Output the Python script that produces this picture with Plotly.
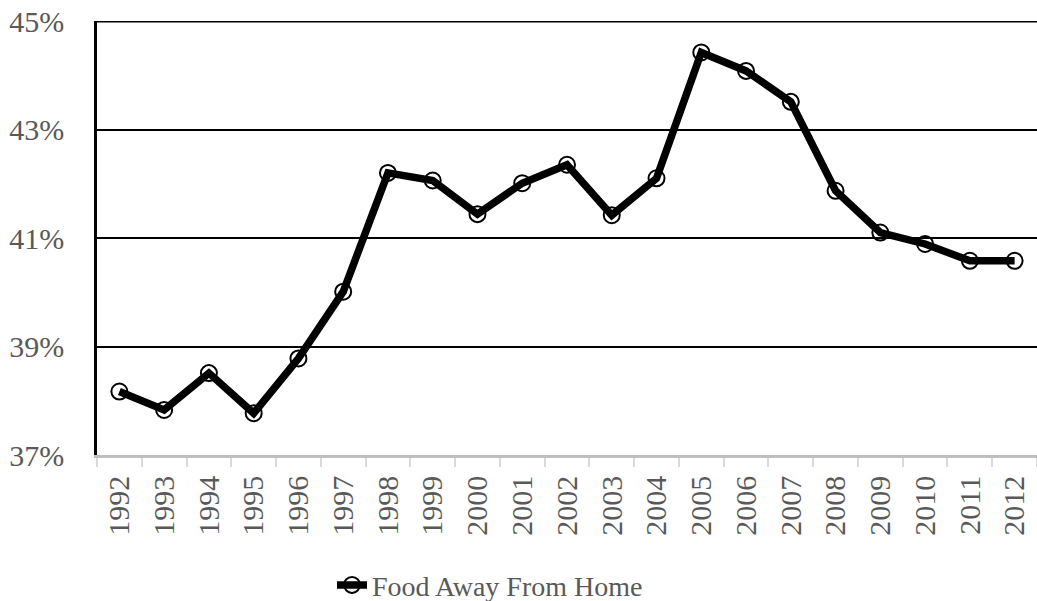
import plotly.graph_objects as go

years = [str(y) for y in range(1992, 2013)]
food_away_pct = [38.17, 37.83, 38.51, 37.77, 38.78, 40.01, 42.20, 42.06, 41.44, 42.01,
                 42.35, 41.42, 42.10, 44.42, 44.08, 43.51, 41.87, 41.10, 40.89, 40.58, 40.58]
y_ticks = [37, 39, 41, 43, 45]
y_tick_text = [f"{v}%" for v in y_ticks]

FONT = "Liberation Serif, Times New Roman, serif"
GRAY_TEXT = "#595959"

fig = go.Figure()
fig.add_trace(go.Scatter(
    x=years, y=food_away_pct, mode="lines+markers",
    name="Food Away From Home",
    line=dict(color="black", width=7.5),
    marker=dict(symbol="circle-open", size=16, color="black", line=dict(width=2, color="black")),
))

# heavier rule along the top of the value axis
fig.add_shape(type="line", xref="paper", yref="y", x0=0, x1=1,
              y0=max(y_ticks), y1=max(y_ticks), line=dict(color="black", width=3))

fig.update_layout(
    width=1037, height=601,
    margin=dict(l=97, r=0, t=21, b=146, autoexpand=False),
    paper_bgcolor="white", plot_bgcolor="white",
    font=dict(family=FONT, color=GRAY_TEXT, size=30),
    showlegend=True,
    legend=dict(orientation="h", x=0.25, xanchor="left", y=-0.30, yanchor="middle",
                font=dict(size=28, color=GRAY_TEXT), bgcolor="rgba(0,0,0,0)"),
    xaxis=dict(
        type="category", range=[-0.5, len(years) - 0.5],
        tickson="boundaries", ticks="outside", ticklen=9,
        tickcolor="#D9D9D9", tickwidth=2, tickangle=-90,
        showline=True, linecolor="#BFBFBF", linewidth=2.5,
        showgrid=False, tickfont=dict(size=30, color=GRAY_TEXT),
        ticklabelstandoff=6, automargin=False,
    ),
    yaxis=dict(
        range=[37, 45], tickvals=y_ticks, ticktext=y_tick_text,
        showgrid=True, gridcolor="black", gridwidth=1.5,
        showline=True, linecolor="black", linewidth=2.5,
        zeroline=False, ticks="", tickfont=dict(size=30, color=GRAY_TEXT),
        ticklabelstandoff=24, automargin=False,
    ),
)

fig.write_html("out.html")
